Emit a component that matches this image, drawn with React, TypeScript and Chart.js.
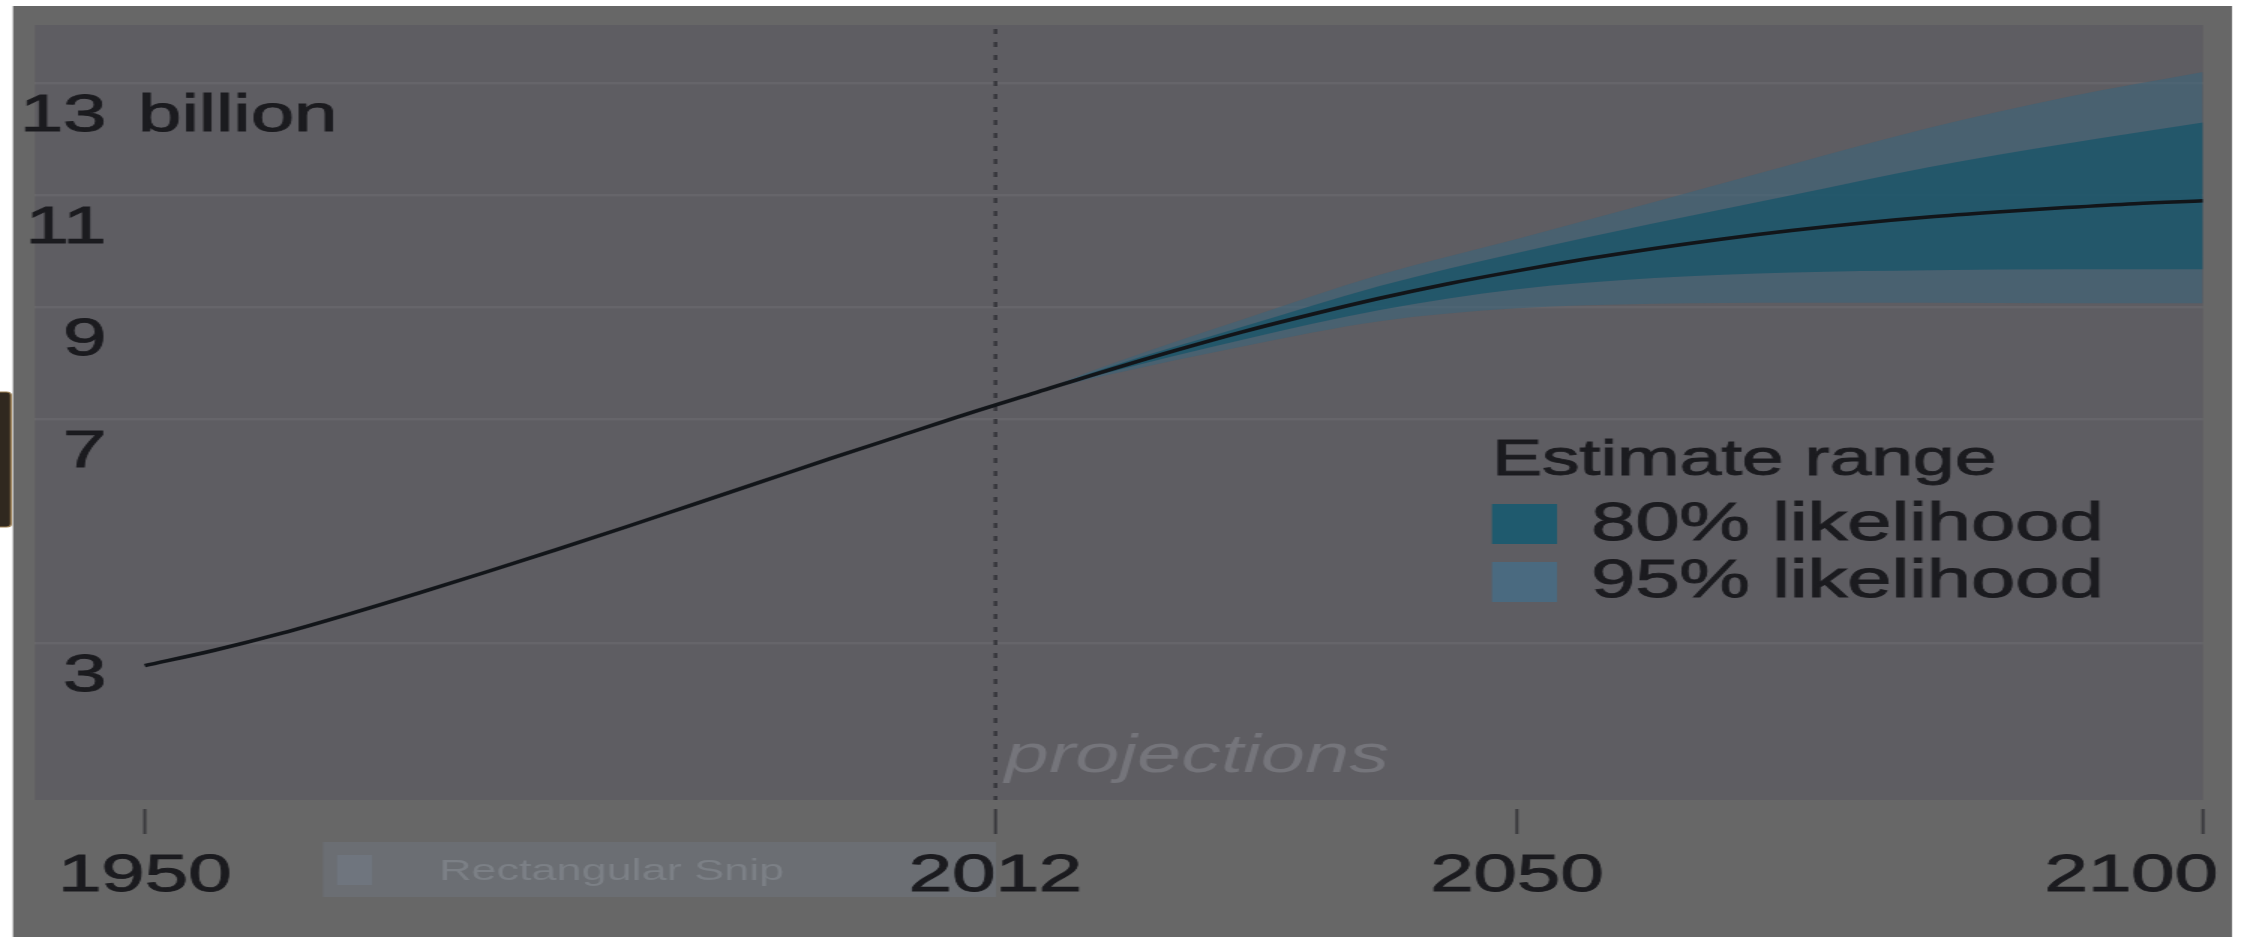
import React, { useEffect, useRef } from "react";
import { Chart, registerables } from "chart.js";

Chart.register(...registerables);

// ---------- data ----------
const years = [1950, 1955, 1960, 1965, 1970, 1975, 1980, 1985, 1990, 1995, 2000, 2005, 2010, 2015, 2020, 2025, 2030, 2035, 2040, 2045, 2050, 2055, 2060, 2065, 2070, 2075, 2080, 2085, 2090, 2095, 2100];
const medianBillions = [2.6, 2.87, 3.18, 3.53, 3.9, 4.28, 4.67, 5.07, 5.48, 5.89, 6.3, 6.7, 7.1, 7.48, 7.86, 8.22, 8.56, 8.87, 9.16, 9.42, 9.65, 9.86, 10.05, 10.22, 10.37, 10.5, 10.61, 10.7, 10.78, 10.85, 10.9];

const bandYears = [2015, 2020, 2030, 2040, 2050, 2060, 2070, 2080, 2090, 2100];
const upper95 = [7.48, 7.95, 8.78, 9.58, 10.22, 10.88, 11.55, 12.2, 12.75, 13.2];
const upper80 = [7.48, 7.91, 8.65, 9.38, 9.97, 10.5, 11.0, 11.5, 11.92, 12.3];
const lower80 = [7.48, 7.82, 8.42, 8.95, 9.32, 9.52, 9.62, 9.66, 9.68, 9.68];
const lower95 = [7.48, 7.78, 8.3, 8.75, 8.98, 9.06, 9.08, 9.08, 9.07, 9.07];

const xTickYears = [1950, 2012, 2050, 2100];
const xTickLabels = ["1950", "2012", "2050", "2100"];
const yTickValues = [3, 7, 9, 11, 13];
const yTickLabels = ["3", "7", "9", "11", "13"];
const yUnitLabel = "billion";
const dividerYear = 2012;
const dividerLabel = "projections";
const legendTitle = "Estimate range";
const legendLabels = ["80% likelihood", "95% likelihood"];
const snipLabel = "Rectangular Snip";

// ---------- styles ----------
const S = 1.5; // horizontal stretch of the picture
const W = Math.round(2244 / S);
const H = 937;
const FONT = '"Liberation Sans", Arial, Helvetica, sans-serif';
const TEXT = "#1b1b1f";
const C80 = "rgba(24,84,105,0.78)";
const C95 = "rgba(58,100,122,0.58)";
const C80_SWATCH = "#1f5a6e";
const C95_SWATCH = "#4a6a80";

const pts = (xs: number[], ys: number[]) => xs.map((x, i) => ({ x, y: ys[i] }));

function heavyText(ctx: any, text: string, x: number, y: number) {
  ctx.fillText(text, x, y);
  ctx.strokeText(text, x, y);
}

const decorPlugin = {
  id: "decor",
  beforeDraw(chart: any) {
    const { ctx, chartArea: a } = chart;
    ctx.save();
    ctx.fillStyle = "#ffffff";
    ctx.fillRect(0, 0, W, H);
    ctx.fillStyle = "#676767";
    ctx.fillRect(13 / S, 6, (2232 - 13) / S, H - 6);
    ctx.fillStyle = "#5e5d62";
    ctx.fillRect(a.left, a.top, a.right - a.left, a.bottom - a.top);
    // left edge tab
    ctx.fillStyle = "#30281f";
    ctx.strokeStyle = "#9c7f52";
    ctx.lineWidth = 1.2;
    ctx.beginPath();
    ctx.roundRect(-4, 392, 11 / S + 4, 135, 3);
    ctx.fill();
    ctx.stroke();
    // snip toolbar
    ctx.fillStyle = "#6b6e73";
    ctx.fillRect(323 / S, 842, (996 - 323) / S, 55);
    ctx.fillStyle = "#6f757e";
    ctx.fillRect(337 / S, 855, 35 / S, 30);
    ctx.fillStyle = "#7c8086";
    ctx.font = `30px ${FONT}`;
    ctx.textAlign = "left";
    ctx.textBaseline = "alphabetic";
    ctx.fillText(snipLabel, 439 / S, 880);
    ctx.restore();
  },
  beforeDatasetsDraw(chart: any) {
    const { ctx, chartArea: a } = chart;
    const x = chart.scales.x.getPixelForValue(dividerYear);
    ctx.save();
    ctx.strokeStyle = "#38383d";
    ctx.lineWidth = 2.5;
    ctx.setLineDash([5, 8]);
    ctx.beginPath();
    ctx.moveTo(x, a.top + 4);
    ctx.lineTo(x, a.bottom);
    ctx.stroke();
    ctx.setLineDash([]);
    ctx.fillStyle = "#75757b";
    ctx.font = `italic 53px ${FONT}`;
    ctx.textAlign = "left";
    ctx.textBaseline = "alphabetic";
    ctx.fillText(dividerLabel, x + 6, 772);
    ctx.restore();
  },
  afterDraw(chart: any) {
    const { ctx, chartArea: a } = chart;
    const xs = chart.scales.x;
    const ys = chart.scales.y;
    ctx.save();
    // x ticks and labels
    ctx.strokeStyle = "#3a3a3e";
    ctx.lineWidth = 2;
    xTickYears.forEach((yr) => {
      const x = xs.getPixelForValue(yr);
      ctx.beginPath();
      ctx.moveTo(x, 809);
      ctx.lineTo(x, 834);
      ctx.stroke();
    });
    ctx.font = `52px ${FONT}`;
    ctx.fillStyle = TEXT;
    ctx.strokeStyle = TEXT;
    ctx.lineWidth = 0.9;
    ctx.textBaseline = "alphabetic";
    const rightLimit = a.right + 10;
    xTickYears.forEach((yr, i) => {
      const x = xs.getPixelForValue(yr);
      const w = ctx.measureText(xTickLabels[i]).width;
      let left = x - w / 2;
      if (left + w > rightLimit) left = rightLimit - w;
      ctx.textAlign = "left";
      heavyText(ctx, xTickLabels[i], left, 891);
    });
    // y labels (inside plot, under gridlines)
    const numRight = 71;
    yTickValues.forEach((v, i) => {
      const y = ys.getPixelForValue(v) + 48;
      ctx.textAlign = "right";
      heavyText(ctx, yTickLabels[i], numRight, y);
      if (i === yTickValues.length - 1) {
        ctx.textAlign = "left";
        heavyText(ctx, yUnitLabel, numRight + 21, y);
      }
    });
    // legend
    const lx = 1492 / S;
    ctx.textAlign = "left";
    ctx.font = `50px ${FONT}`;
    heavyText(ctx, legendTitle, lx, 475);
    ctx.fillStyle = C80_SWATCH;
    ctx.fillRect(lx, 504, 65 / S, 40);
    ctx.fillStyle = C95_SWATCH;
    ctx.fillRect(lx, 562, 65 / S, 40);
    ctx.fillStyle = TEXT;
    ctx.font = `53px ${FONT}`;
    heavyText(ctx, legendLabels[0], 1591 / S, 540);
    heavyText(ctx, legendLabels[1], 1591 / S, 597);
    ctx.restore();
  },
};

export default function App() {
  const ref = useRef<HTMLCanvasElement>(null);
  useEffect(() => {
    const canvas = ref.current;
    if (!canvas) return;
    const band = { borderWidth: 0, pointRadius: 0, cubicInterpolationMode: "monotone" };
    const chart = new Chart(canvas, {
      type: "line",
      data: {
        datasets: [
          {
            label: "median",
            data: pts(years, medianBillions),
            borderColor: "#121519",
            borderWidth: 3.5,
            pointRadius: 0,
            cubicInterpolationMode: "monotone",
            fill: false,
            order: 0,
          },
          { ...band, label: legendLabels[0], data: pts(bandYears, upper80), backgroundColor: C80, fill: "+1", order: 1 },
          { ...band, label: "lower80", data: pts(bandYears, lower80), fill: false, order: 1 },
          { ...band, label: legendLabels[1], data: pts(bandYears, upper95), backgroundColor: C95, fill: "+1", order: 2 },
          { ...band, label: "lower95", data: pts(bandYears, lower95), fill: false, order: 2 },
        ],
      },
      options: {
        animation: false,
        responsive: false,
        devicePixelRatio: 1,
        layout: { padding: { left: 35 / S, right: W - 2203 / S, top: 25, bottom: 137 } },
        plugins: { legend: { display: false }, tooltip: { enabled: false } },
        scales: {
          x: { type: "linear", min: 1942, max: 2100, display: false },
          y: {
            type: "linear",
            min: 0.2,
            max: 14.04,
            display: true,
            afterBuildTicks: (s: any) => {
              s.ticks = yTickValues.map((v) => ({ value: v }));
            },
            afterFit: (s: any) => {
              s.width = 0;
            },
            ticks: { display: false },
            border: { display: false },
            grid: { color: "rgba(255,255,255,0.05)", lineWidth: 2.5, drawTicks: false },
          },
        },
      },
      plugins: [decorPlugin],
    } as any);
    return () => chart.destroy();
  }, []);
  return (
    <div
      style={{
        position: "absolute",
        left: 0,
        top: 0,
        width: W,
        height: H,
        transform: `scaleX(${S})`,
        transformOrigin: "0 0",
      }}
    >
      <canvas ref={ref} width={W} height={H} style={{ display: "block" }} />
    </div>
  );
}
